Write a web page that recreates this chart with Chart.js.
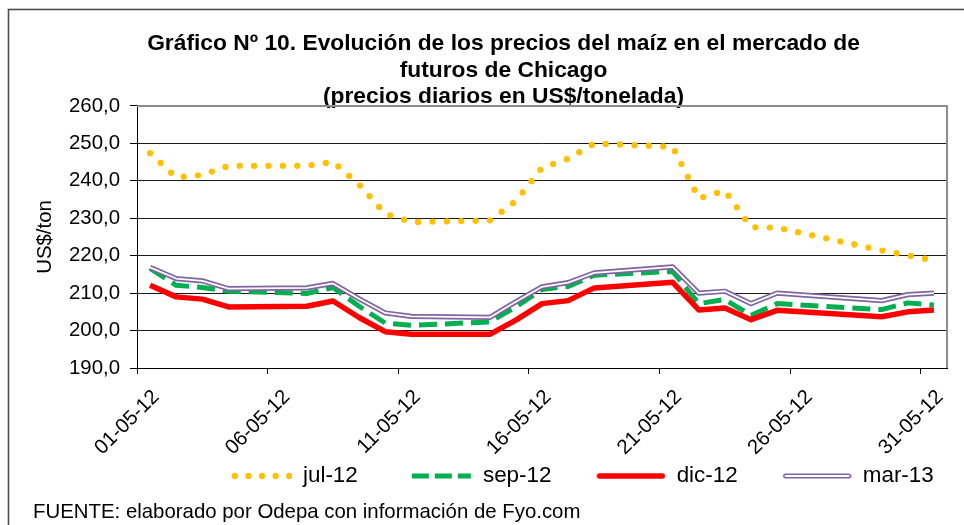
<!DOCTYPE html>
<html><head><meta charset="utf-8">
<script src="https://cdn.jsdelivr.net/npm/chart.js@4.4.1/dist/chart.umd.min.js"></script>
<style>html,body{margin:0;padding:0;background:#fff;overflow:hidden}</style>
</head><body>
<canvas id="c" width="964" height="525"></canvas>
<script>
// ---- DATA ----
const axisDays = ['01-05-12','02-05-12','03-05-12','04-05-12','05-05-12','06-05-12','07-05-12','08-05-12','09-05-12','10-05-12',
  '11-05-12','12-05-12','13-05-12','14-05-12','15-05-12','16-05-12','17-05-12','18-05-12','19-05-12','20-05-12',
  '21-05-12','22-05-12','23-05-12','24-05-12','25-05-12','26-05-12','27-05-12','28-05-12','29-05-12','30-05-12','31-05-12'];
const labelEvery = 5;
const tradeDates = ['01-05-12','02-05-12','03-05-12','04-05-12','07-05-12','08-05-12','09-05-12','10-05-12','11-05-12',
  '14-05-12','15-05-12','16-05-12','17-05-12','18-05-12','21-05-12','22-05-12','23-05-12','24-05-12','25-05-12',
  '29-05-12','30-05-12','31-05-12'];
const jul12 = [247.4,240.9,241.6,244.0,244.0,245.1,239.0,231.2,229.0,229.4,234.6,243.5,245.9,250.0,249.1,235.3,237.4,227.6,227.5,221.4,220.1,218.7];
const sep12 = [216.6,212.1,211.5,210.5,209.9,211.5,206.5,202.0,201.4,202.3,206.3,211.0,211.8,214.8,215.8,207.2,208.3,204.1,207.2,205.6,207.4,206.8];
const dic12 = [212.1,209.0,208.4,206.3,206.5,207.9,203.5,199.7,199.0,199.0,202.8,207.2,208.0,211.4,212.9,205.5,206.0,202.9,205.4,203.7,205.0,205.5];
const mar13 = [216.9,213.9,213.3,211.2,211.4,212.6,208.5,204.7,203.8,203.5,207.7,211.7,212.8,215.4,217.0,210.0,210.5,207.2,210.0,208.0,209.6,210.0];
const seriesNames = ['jul-12','sep-12','dic-12','mar-13'];
const yMin = 190, yMax = 260, yStep = 10;
const titleLines = ['Gráfico Nº 10. Evolución de los precios del maíz en el mercado de','futuros de Chicago','(precios diarios en US$/tonelada)'];
const yTitle = 'US$/ton';
const footText = 'FUENTE: elaborado por Odepa con información de Fyo.com';

// ---- STYLE ----
const FONT = "'Liberation Sans', Arial, sans-serif";
const C = {jul:'#FFC000', sep:'#00B050', dic:'#FF0000', mar:'#8064A2'};
const pts = arr => tradeDates.map((d, i) => ({x: d, y: arr[i]}));
const SYM_W = 110;      // legend box width (symbol right-aligned inside)

function symbol(kind) {
  const cv = document.createElement('canvas');
  cv.width = SYM_W; cv.height = 14;
  const g = cv.getContext('2d');
  const s0 = SYM_W - 66, s1 = SYM_W - 3;
  g.beginPath();
  if (kind === 'jul') {
    g.strokeStyle = C.jul; g.lineWidth = 6.3; g.lineCap = 'round'; g.setLineDash([0, 13.6]);
    g.moveTo(s0 + 9, 7); g.lineTo(s0 + 64, 7); g.stroke();
  } else if (kind === 'sep') {
    g.strokeStyle = C.sep; g.lineWidth = 5; g.lineCap = 'butt'; g.setLineDash([17, 6]);
    g.moveTo(s0 + 6, 7); g.lineTo(s1 + 2, 7); g.stroke();
  } else if (kind === 'dic') {
    g.strokeStyle = C.dic; g.lineWidth = 5.5; g.lineCap = 'round';
    g.moveTo(s0, 7); g.lineTo(s1, 7); g.stroke();
  } else {
    g.strokeStyle = C.mar; g.lineWidth = 5.2; g.lineCap = 'round';
    g.moveTo(s0, 7); g.lineTo(s1, 7); g.stroke();
    g.beginPath(); g.strokeStyle = '#fff'; g.lineWidth = 1.8;
    g.moveTo(s0, 7); g.lineTo(s1, 7); g.stroke();
  }
  return cv;
}
const symbols = [symbol('jul'), symbol('sep'), symbol('dic'), symbol('mar')];

const layoutPlugin = {
  id: 'layoutTweaks',
  beforeDraw(chart) {
    const ctx = chart.ctx;
    ctx.save();
    ctx.fillStyle = '#fff'; ctx.fillRect(0, 0, chart.width, chart.height);
    ctx.strokeStyle = '#4d4d4d'; ctx.lineWidth = 1.6;
    ctx.strokeRect(8.5, 9.5, 1100, 700);
    ctx.restore();
  },
  afterLayout(chart) {
    const t = chart.titleBlock;
    if (t) { const dx = 503.5 - (t.left + t.right) / 2; t.left += dx; t.right += dx; }
    const lg = chart.legend;
    if (lg) {
      const P = lg.options.labels.padding, fs = lg.options.labels.font.size;
      const dx = 181.8 - (lg.left + P); lg.left += dx; lg.right += dx;
      const dy = 476 - (lg.top + P + fs / 2); lg.top += dy; lg.bottom += dy;
    }
  },
  beforeDatasetsDraw(chart) {
    const {ctx, chartArea: a} = chart;
    ctx.save();
    ctx.strokeStyle = '#8c8c8c'; ctx.lineWidth = 2;
    ctx.beginPath();
    ctx.moveTo(a.left, a.top); ctx.lineTo(a.right, a.top); ctx.lineTo(a.right, a.bottom);
    ctx.stroke();
    ctx.restore();
  }
};

const base = {pointRadius: 0, fill: false, tension: 0, borderJoinStyle: 'round'};
new Chart(document.getElementById('c'), {
  type: 'line',
  data: {
    labels: axisDays,
    datasets: [
      Object.assign({}, base, {label: 'mar13-inner', data: pts(mar13), borderColor: '#fff', borderWidth: 1.8, order: 0}),
      Object.assign({}, base, {label: seriesNames[3], data: pts(mar13), borderColor: C.mar, borderWidth: 5.2, order: 1}),
      Object.assign({}, base, {label: seriesNames[2], data: pts(dic12), borderColor: C.dic, borderWidth: 5.5, order: 2}),
      Object.assign({}, base, {label: seriesNames[1], data: pts(sep12), borderColor: C.sep, borderWidth: 5, borderDash: [18, 8], order: 3}),
      Object.assign({}, base, {label: seriesNames[0], data: pts(jul12), borderColor: C.jul, borderWidth: 6.3, borderDash: [0, 14.4], borderCapStyle: 'round', order: 4})
    ]
  },
  options: {
    responsive: false, animation: false, devicePixelRatio: 1, events: [],
    layout: {padding: {top: 20, left: 33, right: 17, bottom: 0}},
    scales: {
      x: {
        type: 'category', offset: true,
        grid: {offset: true, drawOnChartArea: false, drawTicks: true, tickLength: 6,
          tickColor: c => (c.index !== undefined && c.index % labelEvery === 0) ? '#000' : 'rgba(0,0,0,0)'},
        border: {color: '#000', width: 1},
        ticks: {autoSkip: false, minRotation: 45, maxRotation: 45, padding: 11, labelOffset: 6,
          color: '#000', font: {family: FONT, size: 20.4},
          callback: (v, i) => i % labelEvery === 0 ? axisDays[i] : ''},
        afterFit: s => {
          const ch = s.chart;
          const sub = ch.boxes.find(b => b.options && b.options.text === footText);
          s.height = ch.height - ch.legend.height - (sub ? sub.height : 0) - 368;
        }
      },
      y: {
        min: yMin, max: yMax,
        grid: {color: '#1a1a1a', lineWidth: 1, tickLength: 7, tickColor: '#000'},
        border: {color: '#000', width: 1},
        ticks: {stepSize: yStep, padding: 10, color: '#000', font: {family: FONT, size: 20.4},
          callback: v => v.toFixed(1).replace('.', ',')},
        title: {display: true, text: yTitle, color: '#000', font: {family: FONT, size: 20.4}, padding: {top: 0, bottom: 0}},
        afterFit: s => { s.width = 104; }
      }
    },
    plugins: {
      title: {display: true, text: titleLines, color: '#000',
        font: {family: FONT, size: 22.8, weight: 'bold', lineHeight: 1.162},
        padding: {top: 10.75, bottom: -4.25}},
      subtitle: {display: true, position: 'bottom', align: 'start', text: footText, color: '#000',
        font: {family: FONT, size: 20.4, lineHeight: 1.2}, padding: {top: 0, bottom: 0}},
      legend: {position: 'bottom', align: 'start',
        labels: {usePointStyle: true, pointStyleWidth: SYM_W, boxHeight: 12, padding: 4,
          color: '#000', font: {family: FONT, size: 22.4},
          generateLabels: () => seriesNames.map((n, i) => ({text: n, pointStyle: symbols[i], fillStyle: 'rgba(0,0,0,0)',
            strokeStyle: 'rgba(0,0,0,0)', lineWidth: 0, hidden: false, fontColor: '#000', datasetIndex: 4 - i}))}},
      tooltip: {enabled: false}
    }
  },
  plugins: [layoutPlugin]
});
</script>
</body></html>
